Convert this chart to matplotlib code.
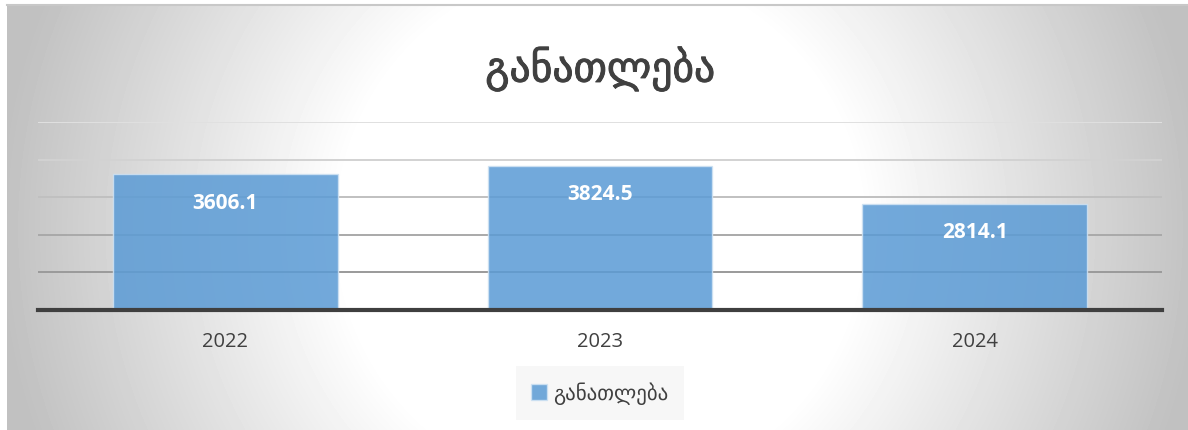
import numpy as np
import matplotlib.pyplot as plt
import matplotlib.patheffects as pe

# data
years = ['2022', '2023', '2024']
values = [3606.1, 3824.5, 2814.1]
title = 'განათლება'
series_name = 'განათლება'
grid_vals = [1000, 2000, 3000, 4000, 5000]

W, H = 1188, 431
fig = plt.figure(figsize=(W / 100, H / 100), dpi=100)
fig.patch.set_facecolor('white')

# radial gray background of the chart area
bg = fig.add_axes([7 / W, 0, 1 - 7 / W, 1 - 6 / H], zorder=0)
xx, yy = np.meshgrid(np.arange(7, W), np.arange(6, H))
r = np.sqrt((xx - 600) ** 2 + (yy - 230) ** 2)
shade = 255 - 62 * np.clip((r - 260) / 340, 0, 1)
bg.imshow(shade, cmap='gray', vmin=0, vmax=255, aspect='auto', interpolation='bilinear')
bg.axis('off')
# thin gray line at the top of the chart area
fig.add_artist(plt.Line2D([7 / W, 1], [1 - 6 / H, 1 - 6 / H], color='#c8c8c8', lw=1.5))

ax = fig.add_axes([38 / W, 120 / H, 1124 / W, 188 / H], zorder=1)
ax.patch.set_alpha(0)
x = np.arange(len(years))
grid_cols = ['#9a9a9a', '#a9a9a9', '#c0c0c0', '#d2d2d2', '#e0e0e0']
for gv, gc in zip(grid_vals, grid_cols):
    ax.axhline(gv, color=gc, lw=1.4, zorder=1)
bars = ax.bar(x, values, width=0.6, color='#5b9bd5', alpha=0.86,
              edgecolor='#cfe2f3', linewidth=1.0, zorder=2, label=series_name)
for xi, v in zip(x, values):
    ax.annotate(f'{v:.1f}', (xi, v), xytext=(0, -20), textcoords='offset points',
                ha='center', va='center', color='white', fontsize=15,
                fontweight='bold', family='Open Sans', zorder=3)

ax.set_xlim(-0.5, 2.5)
ax.set_ylim(0, 5000)
ax.set_yticks([])
ax.set_xticks(x)
ax.set_xticklabels(years, family='Open Sans', fontsize=14.5, color='#404040')
ax.tick_params(axis='x', length=0, pad=15)
for s in ['top', 'right', 'left']:
    ax.spines[s].set_visible(False)
ax.spines['bottom'].set_color('#3f3f3f')
ax.spines['bottom'].set_linewidth(3)
ax.spines['bottom'].set_zorder(4)

fig.text(600 / W, 1 - 70 / H, title, ha='center', va='center', fontsize=30,
         color='#404040', family='DejaVu Sans', zorder=2,
         path_effects=[pe.withStroke(linewidth=0.7, foreground='#404040')])

leg = fig.legend(handles=[bars], labels=[series_name], loc='center',
                 bbox_to_anchor=(600 / W, 1 - 394 / H), frameon=True,
                 prop={'family': 'DejaVu Sans', 'size': 15}, handlelength=0.75,
                 handleheight=0.75, handletextpad=0.3, borderpad=0.75, fancybox=False)
leg.get_frame().set_facecolor('#f7f7f7')
leg.get_frame().set_edgecolor('none')
leg.get_frame().set_alpha(1)
for t in leg.get_texts():
    t.set_color('#404040')

fig.savefig('out.png', dpi=100)
